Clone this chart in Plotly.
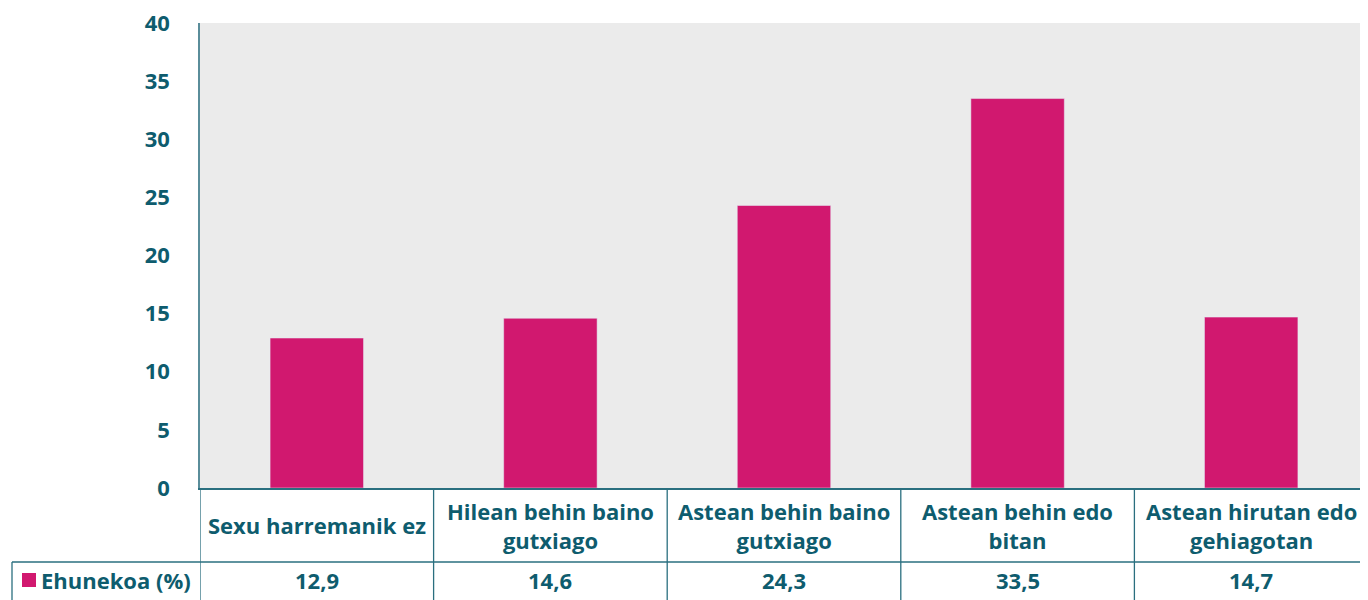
import plotly.graph_objects as go

categories = ["Sexu harremanik ez", "Hilean behin baino gutxiago", "Astean behin baino gutxiago",
              "Astean behin edo bitan", "Astean hirutan edo gehiagotan"]
cat_labels = ["Sexu harremanik ez", "Hilean behin baino<br>gutxiago", "Astean behin baino<br>gutxiago",
              "Astean behin edo<br>bitan", "Astean hirutan edo<br>gehiagotan"]
values = [12.9, 14.6, 24.3, 33.5, 14.7]
series_name = "Ehunekoa (%)"
y_ticks = [0, 5, 10, 15, 20, 25, 30, 35, 40]

BAR = "#D1186F"
TEXT = "#0E5C6E"
LINE = "#2A6F7F"
FONT = "Open Sans"

fig = go.Figure(go.Bar(x=categories, y=values, marker_color=BAR, width=0.4, showlegend=False))

# page body has an 8px margin, so the margins are shifted to compensate
fig.update_layout(
    width=1368, height=600,
    margin=dict(l=192, r=8, t=15, b=120),
    plot_bgcolor="#EBEBEB", paper_bgcolor="white",
    font=dict(family=FONT, color=TEXT, size=20),
    xaxis=dict(showticklabels=False, showgrid=False, zeroline=False, automargin=False,
               showline=True, linecolor=LINE, linewidth=1.5, range=[-0.5, 4.5]),
    yaxis=dict(range=[0, 40], tickvals=y_ticks, showgrid=False, zeroline=False,
               automargin=False, showline=True, linecolor="#5A8D9A", linewidth=1.5,
               tickfont=dict(family=FONT, size=22, color=TEXT, weight="bold"),
               ticklabelstandoff=24, ticklabeloverflow="allow"),
)

# data table below the plot
y_mid = -74 / 465
y_bot = -0.26
shapes = []
for i in range(len(categories)):
    shapes.append(dict(type="line", xref="x", yref="paper", x0=i - 0.5, x1=i - 0.5,
                       y0=0, y1=y_bot, line=dict(color=LINE, width=1.3)))
shapes.append(dict(type="line", xref="paper", yref="paper", x0=-188 / 1168, x1=1,
                   y0=y_mid, y1=y_mid, line=dict(color=LINE, width=1.3)))
shapes.append(dict(type="line", xref="paper", yref="paper", x0=-188 / 1168, x1=-188 / 1168,
                   y0=y_mid, y1=y_bot, line=dict(color=LINE, width=1.3)))
shapes.append(dict(type="rect", xref="paper", yref="paper", x0=-178 / 1168, x1=-164 / 1168,
                   y0=-(573 - 488) / 465, y1=-(587 - 488) / 465, fillcolor=BAR, line_width=0))
fig.update_layout(shapes=shapes)

for c, lab, v in zip(categories, cat_labels, values):
    fig.add_annotation(x=c, xref="x", y=-37 / 465, yref="paper", text=lab, showarrow=False,
                       font=dict(size=22, color=TEXT, weight="bold"), yanchor="middle",
                       align="center")
    fig.add_annotation(x=c, xref="x", y=-92 / 465, yref="paper",
                       text=f"{v:.1f}".replace(".", ","), showarrow=False,
                       font=dict(size=22, color=TEXT, weight="bold"), yanchor="middle")
fig.add_annotation(x=-161 / 1168, xref="paper", y=-92 / 465, yref="paper", text=series_name,
                   showarrow=False, xanchor="left", yanchor="middle",
                   font=dict(size=22, color=TEXT, weight="bold"))

fig.write_html("out.html")
